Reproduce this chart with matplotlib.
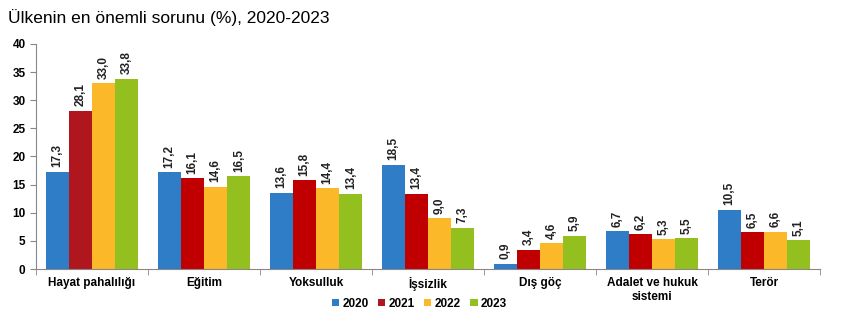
import numpy as np
import matplotlib
matplotlib.use("Agg")
import matplotlib.pyplot as plt

categories = ["Hayat pahalılığı", "Eğitim", "Yoksulluk", "İşsizlik", "Dış göç",
              "Adalet ve hukuk\nsistemi", "Terör"]
years = ["2020", "2021", "2022", "2023"]
v2020 = [17.3, 17.2, 13.6, 18.5, 0.9, 6.7, 10.5]
v2021 = [28.1, 16.1, 15.8, 13.4, 3.4, 6.2, 6.5]
v2022 = [33.0, 14.6, 14.4, 9.0, 4.6, 5.3, 6.6]
v2023 = [33.8, 16.5, 13.4, 7.3, 5.9, 5.5, 5.1]
series = [v2020, v2021, v2022, v2023]
colors = ["#2E7DC6", "#C00000", "#FBB829", "#93C01F"]

plt.rcParams['font.family'] = ['Liberation Sans', 'DejaVu Sans']

fig = plt.figure(figsize=(8.56, 3.23), dpi=100)
ax = fig.add_axes([0.042, 0.167, 0.916, 0.697])

x = np.arange(len(categories))
w = 0.207
for i, (vals, col) in enumerate(zip(series, colors)):
    pos = x + (i - 1.5) * w
    bars = ax.bar(pos, vals, w, color=col, label=years[i], zorder=2)
    if i == 1:
        bars[0].set_facecolor("#B0161E")
    for p, v in zip(pos, vals):
        ax.text(p, v + 0.8, f"{v:.1f}".replace(".", ","), rotation=90,
                ha="center", va="bottom", fontsize=8.5, fontweight="bold",
                color="#222222")

ax.set_xlim(-0.5, len(categories) - 0.5)
ax.set_ylim(0, 40)
ax.set_yticks(range(0, 41, 5))
ax.set_xticks(x)
ax.set_xticklabels(categories, fontsize=8.5, fontweight="bold")
ax.set_xticks(np.arange(len(categories) + 1) - 0.5, minor=True)
ax.tick_params(axis="x", which="major", length=0, pad=6)
ax.tick_params(axis="x", which="minor", length=4, color="#888888")
ax.tick_params(axis="y", labelsize=8.5, length=4, color="#888888")
for lab in ax.get_yticklabels():
    lab.set_fontweight("bold")
for s in ["top", "right"]:
    ax.spines[s].set_visible(False)
ax.spines["left"].set_color("#888888")
ax.spines["bottom"].set_color("#888888")

fig.text(0.009, 0.93, "Ülkenin en önemli sorunu (%), 2020-2023", fontsize=12.5)

leg = fig.legend(loc="center", bbox_to_anchor=(0.49, 0.06), ncol=4, frameon=False,
                 fontsize=8.5, handlelength=0.6, handleheight=0.6,
                 handletextpad=0.3, columnspacing=0.8)
for t in leg.get_texts():
    t.set_fontweight("bold")

fig.savefig("out.png", dpi=100)
